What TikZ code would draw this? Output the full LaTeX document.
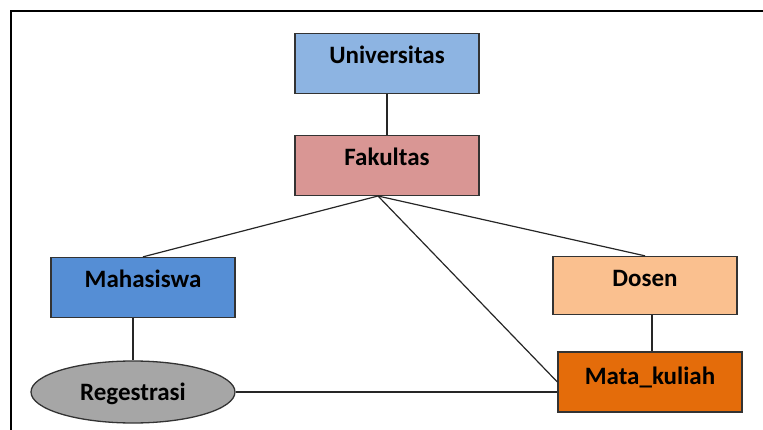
\documentclass[tikz,border=0pt]{standalone}
\usepackage{fontspec}
\setmainfont{Carlito}
\usepackage{tikz}
\usetikzlibrary{shapes.geometric}

\tikzset{
  ent/.style={draw=black!80, line width=1.3pt, rectangle, minimum width=184pt,
    inner sep=0pt, text height=30pt, text depth=30pt,
    font=\fontsize{25}{30}\selectfont\bfseries},
  rel/.style={draw=black!80, line width=1.3pt, ellipse, minimum width=204pt,
    minimum height=62pt, inner sep=0pt, text height=16pt, text depth=0pt,
    font=\fontsize{25}{30}\selectfont\bfseries},
  link/.style={draw=black!85, line width=1.2pt}
}

\begin{document}
\begin{tikzpicture}[x=1pt,y=-1pt]
\definecolor{univ}{RGB}{141,180,226}
\definecolor{faku}{RGB}{217,150,148}
\definecolor{mahs}{RGB}{85,142,213}
\definecolor{dosn}{RGB}{250,192,143}
\definecolor{matk}{RGB}{228,108,10}
\definecolor{regs}{RGB}{166,166,166}
\useasboundingbox (0,0) rectangle (763,430);
%% --- frame (cut at right and bottom) ---
\draw[line width=2pt] (11,430) -- (11,11) -- (763,11);
%% --- entities ---
\node[ent, fill=univ] (uni) at (387,63.5) {Universitas};
\node[ent, fill=faku] (fak) at (387,165.5) {Fakultas};
\node[ent, fill=mahs] (mhs) at (143,287.5) {Mahasiswa};
\node[ent, fill=dosn, text depth=28pt] (dsn) at (645,285.5) {Dosen};
\node[ent, fill=matk, text height=32pt, text depth=28pt] (mk) at (650,382) {Mata\_kuliah};
\node[rel, fill=regs] (reg) at (133,392) {Regestrasi};
\coordinate (hub) at (378,196);
%% --- links ---
\draw[link] (uni) -- (fak);
\draw[link] (hub) -- (mhs.north);
\draw[link] (hub) -- (dsn.north);
\draw[link] (hub) -- (mk.west);
\draw[link] (reg.north |- mhs.south) -- (reg.north);
\draw[link] (mk.north -| 652,0) -- (dsn.south -| 652,0);
\draw[link] (reg.east) -- (reg.east -| mk.west);
\end{tikzpicture}
\end{document}
